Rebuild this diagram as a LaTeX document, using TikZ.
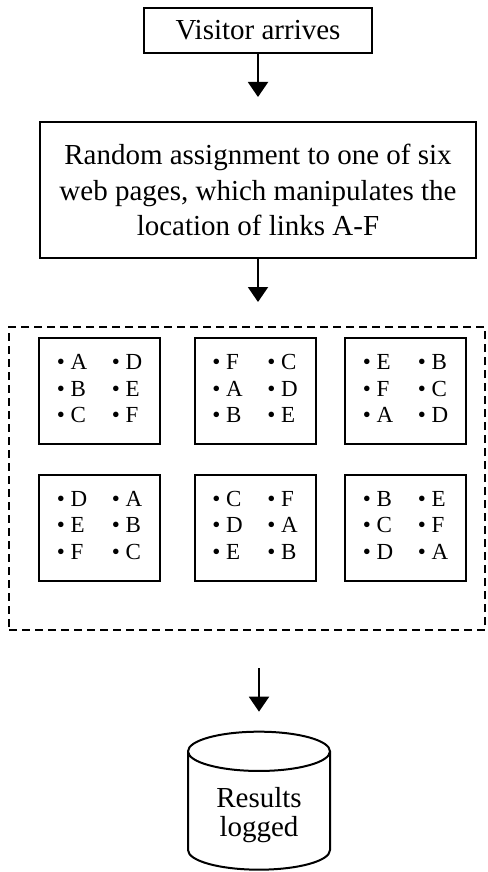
\documentclass[tikz,border=0pt]{standalone}
\usepackage{fontspec}
\setmainfont{Liberation Serif}
\usetikzlibrary{arrows.meta,shapes.geometric}

\begin{document}
\begin{tikzpicture}[x=0.5pt,y=-0.5pt,line width=1pt,
  stepbox/.style={draw, align=center, inner sep=0pt, font=\fontsize{14.5}{17.75}\selectfont},
  pagebox/.style={draw, minimum width=60.5pt, minimum height=53pt, inner sep=0pt, font=\fontsize{11.5}{13.25}\selectfont},
  flow/.style={-{Triangle[length=7.5pt,width=10pt]}}]
\useasboundingbox (0,0) rectangle (487,872);
\node[stepbox, minimum width=114pt, minimum height=22.5pt] (visit) at (258,30.5){Visitor arrives};
\node[stepbox, minimum width=218pt, minimum height=68pt] (assign) at (258,190){Random assignment to one of six\\web pages, which manipulates the\\location of links A-F};
\node[draw, dash pattern=on 4pt off 2.5pt, minimum width=238pt, minimum height=151.5pt, inner sep=0pt] (pages) at (247,478.5){};
% the six web pages
\node[pagebox] (page1) at (99.5,391){\begin{tabular}{@{}p{27.5pt}@{}l@{}}\textbullet~A & \textbullet~D\\ \textbullet~B & \textbullet~E\\ \textbullet~C & \textbullet~F\end{tabular}};
\node[pagebox] (page2) at (255,391){\begin{tabular}{@{}p{27.5pt}@{}l@{}}\textbullet~F & \textbullet~C\\ \textbullet~A & \textbullet~D\\ \textbullet~B & \textbullet~E\end{tabular}};
\node[pagebox] (page3) at (405.5,391){\begin{tabular}{@{}p{27.5pt}@{}l@{}}\textbullet~E & \textbullet~B\\ \textbullet~F & \textbullet~C\\ \textbullet~A & \textbullet~D\end{tabular}};
\node[pagebox] (page4) at (99.5,527.5){\begin{tabular}{@{}p{27.5pt}@{}l@{}}\textbullet~D & \textbullet~A\\ \textbullet~E & \textbullet~B\\ \textbullet~F & \textbullet~C\end{tabular}};
\node[pagebox] (page5) at (255,527.5){\begin{tabular}{@{}p{27.5pt}@{}l@{}}\textbullet~C & \textbullet~F\\ \textbullet~D & \textbullet~A\\ \textbullet~E & \textbullet~B\end{tabular}};
\node[pagebox] (page6) at (405.5,527.5){\begin{tabular}{@{}p{27.5pt}@{}l@{}}\textbullet~B & \textbullet~E\\ \textbullet~C & \textbullet~F\\ \textbullet~D & \textbullet~A\end{tabular}};
% results
\node[cylinder, shape border rotate=90, draw, aspect=0.46, minimum width=71pt, minimum height=69pt, inner sep=0pt, font=\fontsize{14.5}{14.5}\selectfont] (log) at (259,811){\raisebox{-6.25pt}[0pt][0pt]{\begin{tabular}{@{}c@{}}Results\\logged\end{tabular}}};
\draw[flow, shorten >=12pt](visit) -- (assign);
\draw[flow, shorten >=12pt](assign.south) -- (assign.south |- pages.north);
\draw[flow, shorten <=18.5pt, shorten >=9.5pt](pages.south -| log.north) -- (log.north);
\end{tikzpicture}
\end{document}
